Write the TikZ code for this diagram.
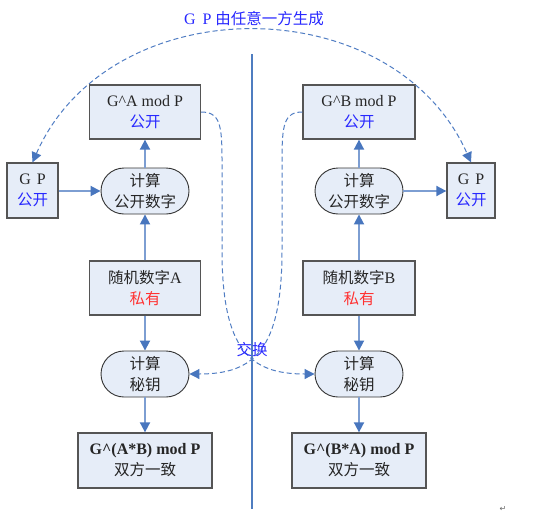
\documentclass[tikz,border=0pt]{standalone}
\usepackage{fontspec}
\setmainfont{Liberation Serif}
\newfontfamily\cjk{Noto Sans CJK SC}
\newfontfamily\djv{DejaVu Sans}
\usetikzlibrary{arrows.meta}
\definecolor{boxfill}{RGB}{230,237,248}
\definecolor{boxline}{RGB}{85,85,85}
\definecolor{arrline}{RGB}{125,158,210}
\definecolor{arrhead}{RGB}{72,118,190}
\definecolor{dashblue}{RGB}{80,125,195}
\definecolor{txtblue}{RGB}{40,40,255}
\definecolor{txtred}{RGB}{255,50,50}
\definecolor{sepline}{RGB}{79,125,192}
\newcommand{\zh}[1]{{\cjk\fontsize{15.5}{21}\selectfont #1}}
\begin{document}
\begin{tikzpicture}[x=1pt,y=-1pt,
 box/.style={draw=boxline, line width=1.3pt, fill=boxfill, inner sep=0pt, align=center, font=\fontsize{16}{21}\selectfont, text=black!85},
 stadium/.style={draw=black!80, line width=0.9pt, fill=boxfill, rounded corners=23pt, minimum width=88pt, minimum height=46pt, inner sep=0pt, align=center, font=\fontsize{16}{21}\selectfont, text=black!85},
 flow/.style={draw=arrline, line width=1.8pt, -{Triangle[length=10pt,width=10pt,color=arrhead]}},
 dflow/.style={draw=dashblue, line width=1pt, dash pattern=on 5pt off 3pt},
 dtip/.style={-{Triangle[length=10pt,width=10pt,color=arrhead]}},
 ddtip/.style={{Triangle[length=10pt,width=10pt,color=arrhead]}-{Triangle[length=10pt,width=10pt,color=arrhead]}},
 ]
\useasboundingbox (0,0) rectangle (553,519);
% separator
\coordinate (septop) at (252,54);
\coordinate (sepbot) at (252,509);
\draw[sepline, line width=2.8pt] (septop) -- (sepbot);

% left column
\node[box, minimum width=111pt, minimum height=54pt] (gA) at (145,112) {G\^{}A mod P\\\textcolor{txtblue}{\zh{公开}}};
\node[box, minimum width=51pt, minimum height=55pt] (gpL) at (32.5,190.5) {G\hspace{6pt}P\\\textcolor{txtblue}{\zh{公开}}};
\node[stadium] (cA) at (145,191) {\zh{计算}\\\zh{公开数字}};
\node[box, minimum width=111pt, minimum height=54pt] (rA) at (145,288) {\zh{随机数字}A\\\textcolor{txtred}{\zh{私有}}};
\node[stadium] (sA) at (145,374) {\zh{计算}\\\zh{秘钥}};
\node[box, minimum width=134pt, minimum height=55pt] (kA) at (145,460.5) {\textbf{G\^{}(A*B) mod P}\\\zh{双方一致}};

% right column
\node[box, minimum width=112pt, minimum height=54pt] (gB) at (359,112) {G\^{}B mod P\\\textcolor{txtblue}{\zh{公开}}};
\node[box, minimum width=48pt, minimum height=55pt] (gpR) at (471,190.5) {G\hspace{6pt}P\\\textcolor{txtblue}{\zh{公开}}};
\node[stadium] (cB) at (359,191) {\zh{计算}\\\zh{公开数字}};
\node[box, minimum width=112pt, minimum height=54pt] (rB) at (359,288) {\zh{随机数字}B\\\textcolor{txtred}{\zh{私有}}};
\node[stadium] (sB) at (359,374) {\zh{计算}\\\zh{秘钥}};
\node[box, minimum width=134pt, minimum height=55pt] (kB) at (359,460.5) {\textbf{G\^{}(B*A) mod P}\\\zh{双方一致}};

% solid flows
\draw[flow] (cA.north) -- (gA.south);
\draw[flow] (gpL.east |- cA.west) -- (cA.west);
\draw[flow] (rA.north) -- (cA.south);
\draw[flow] (rA.south) -- (sA.north);
\draw[flow] (sA.south) -- (kA.north);
\draw[flow] (cB.north) -- (gB.south);
\draw[flow] (cB.east) -- (gpR.west |- cB.east);
\draw[flow] (rB.north) -- (cB.south);
\draw[flow] (rB.south) -- (sB.north);
\draw[flow] (sB.south) -- (kB.north);

% dashed arcs
\draw[dflow, ddtip] (gpL.north) .. controls (110,-13) and (393,-13) .. (gpR.north);
\draw[dflow, dtip] (gA.east) .. controls (220,112) and (222,125) .. (222,160) -- (222,250) .. controls (222,350) and (250,374) .. (sB.west);
\draw[dflow, dtip] (gB.west) .. controls (284,112) and (282,125) .. (282,160) -- (282,250) .. controls (282,350) and (254,374) .. (sA.east);

% labels
\node[text=txtblue, font=\fontsize{16}{21}\selectfont] (title) at (254,19) {G\hspace{7pt}P\hspace{4pt}\zh{由任意一方生成}};
\node[text=txtblue] (swap) at (252,350) {\zh{交换}};
\node[text=black!60] (ret) at (503,509) {\djv\fontsize{8}{8}\selectfont ↵};
\end{tikzpicture}
\end{document}
